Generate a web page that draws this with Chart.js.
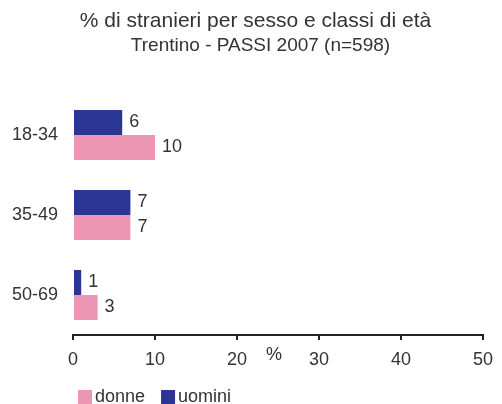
<!DOCTYPE html>
<html><head><meta charset="utf-8">
<script src="https://cdn.jsdelivr.net/npm/chart.js@4/dist/chart.umd.min.js"></script>
<style>html,body{margin:0;padding:0;background:#fff}#wrap{width:502px;height:404px}</style>
</head><body><div id="wrap"><canvas id="c" width="502" height="404"></canvas></div>
<script>
const categories = ['18-34', '35-49', '50-69'];
const uomini = [6, 7, 1];
const donne = [10, 7, 3];
const xTicks = [0, 10, 20, 30, 40, 50];
const titleText = '% di stranieri per sesso e classi di età';
const subtitleText = 'Trentino - PASSI 2007 (n=598)';
const axisLabel = '%';
const legendOrder = [1, 0];

const BLUE = '#2B3593';
const PINK = '#EC96B4';
const TXT = '#333333';
const FONT = "'Liberation Sans', Arial, sans-serif";

const valueLabels = {
  id: 'valueLabels',
  afterDatasetsDraw(chart) {
    const ctx = chart.ctx;
    ctx.save();
    ctx.font = '18px ' + FONT;
    ctx.fillStyle = TXT;
    ctx.textAlign = 'left';
    ctx.textBaseline = 'middle';
    chart.data.datasets.forEach((ds, i) => {
      const meta = chart.getDatasetMeta(i);
      meta.data.forEach((bar, j) => {
        ctx.fillText(String(ds.data[j]), bar.x + 7, bar.y);
      });
    });
    const xs = chart.scales.x;
    ctx.textAlign = 'center';
    ctx.fillText(axisLabel, xs.getPixelForValue(24.5), xs.top + 20);
    ctx.restore();
  }
};
const customLegend = {
  id: 'customLegend',
  afterDraw(chart) {
    const ctx = chart.ctx;
    ctx.save();
    ctx.font = '18px ' + FONT;
    ctx.textBaseline = 'middle';
    ctx.textAlign = 'left';
    let x = 78;
    const yc = 397;
    legendOrder.forEach(i => {
      const ds = chart.data.datasets[i];
      ctx.fillStyle = ds.backgroundColor;
      ctx.fillRect(x, yc - 7, 14, 14);
      ctx.fillStyle = TXT;
      ctx.fillText(ds.label, x + 17, yc);
      x += 17 + ctx.measureText(ds.label).width + 16;
    });
    ctx.restore();
  }
};
const titleShift = {
  id: 'titleShift',
  afterLayout(chart) {
    chart.boxes.forEach(b => {
      if (b.position === 'top' && b.options && b.options.text === titleText) b.left = 20;
      if (b.position === 'top' && b.options && b.options.text === subtitleText) b.left = 30;
    });
  }
};

new Chart(document.getElementById('c'), {
  type: 'bar',
  data: {
    labels: categories,
    datasets: [
      { label: 'uomini', data: uomini, backgroundColor: BLUE, barPercentage: 1.0, categoryPercentage: 0.625 },
      { label: 'donne', data: donne, backgroundColor: PINK, barPercentage: 1.0, categoryPercentage: 0.625 }
    ]
  },
  options: {
    indexAxis: 'y',
    responsive: false,
    animation: false,
    devicePixelRatio: 1,
    layout: { padding: { left: 0, right: 11, top: 0, bottom: 0 } },
    scales: {
      x: {
        min: 0, max: 50,
        afterBuildTicks(s) { s.ticks = xTicks.map(v => ({ value: v })); },
        grid: { display: true, drawOnChartArea: false, drawTicks: true, tickLength: 5, color: '#222', lineWidth: 2 },
        border: { display: true, color: '#222', width: 2 },
        ticks: { color: TXT, font: { size: 18, family: FONT }, padding: 9 },
        afterFit(s) { s.height = 69; }
      },
      y: {
        grid: { display: false, drawTicks: false },
        border: { display: false },
        ticks: { color: TXT, font: { size: 18, family: FONT }, padding: 15 },
        afterFit(s) { s.width = 73; }
      }
    },
    plugins: {
      title: { display: true, text: titleText, color: TXT, font: { size: 21, weight: 'normal', family: FONT }, padding: { top: 9, bottom: 0 } },
      subtitle: { display: true, text: subtitleText, color: TXT, font: { size: 19, family: FONT }, padding: { top: 0, bottom: 38 } },
      legend: { display: false },
      tooltip: { enabled: false }
    }
  },
  plugins: [valueLabels, customLegend, titleShift]
});
</script></body></html>
